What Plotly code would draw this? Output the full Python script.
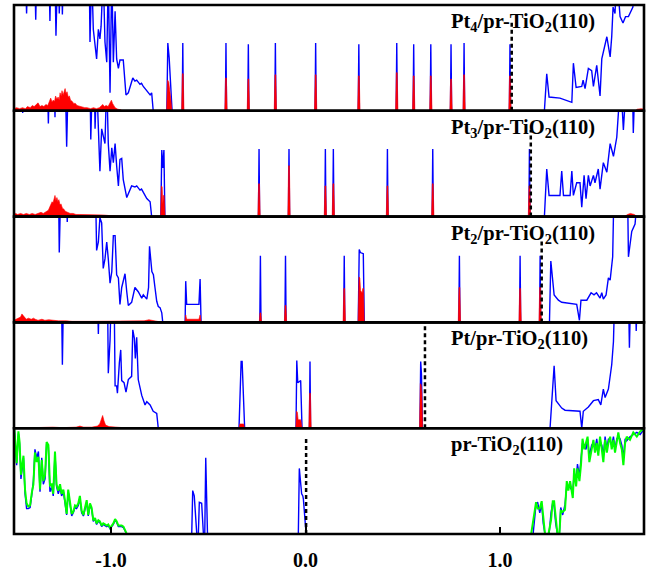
import plotly.graph_objects as go
from plotly.subplots import make_subplots

TOP = 130  # off-scale DOS value (clipped by the panel frame)

panel_labels = ["Pt<sub>4</sub>/pr-TiO<sub>2</sub>(110)",
                "Pt<sub>3</sub>/pr-TiO<sub>2</sub>(110)",
                "Pt<sub>2</sub>/pr-TiO<sub>2</sub>(110)",
                "Pt/pr-TiO<sub>2</sub>(110)",
                "pr-TiO<sub>2</sub>(110)"]
fermi_levels = [1.060, 1.158, 1.214, 0.614, 0.003]
tick_values = [-1.0, 0.0, 1.0]
tick_labels = ["-1.0", "0.0", "1.0"]

# ---------------- Panel 1 : Pt4 ----------------
p1_blue_left = [(-1.499, TOP), (-1.440, TOP), (-1.434, 92), (-1.428, TOP), (-1.392, TOP), (-1.387, 86), (-1.382, TOP),
                (-1.319, TOP), (-1.314, 85), (-1.309, TOP), (-1.288, TOP), (-1.283, 71), (-1.275, TOP), (-1.270, TOP),
                (-1.266, 92), (-1.259, TOP), (-1.254, TOP), (-1.250, 91), (-1.245, TOP), (-1.112, TOP), (-1.108, 65),
                (-1.099, TOP), (-1.091, 77), (-1.074, 49), (-1.065, 77), (-1.057, 68), (-1.051, 80), (-1.040, TOP),
                (-1.031, 65), (-1.022, 46), (-1.014, TOP), (-1.005, 17), (-0.996, TOP), (-0.988, 46), (-0.979, 94),
                (-0.971, 49), (-0.962, 40), (-0.954, 48), (-0.937, 48), (-0.923, 15), (-0.911, 17), (-0.888, 31),
                (-0.877, 28), (-0.868, 29), (-0.851, 25), (-0.843, 26), (-0.834, 23), (-0.816, 19), (-0.799, 15),
                (-0.791, 17), (-0.783, 0)]
p1_red_left = [(-1.499, 2), (-1.485, 3), (-1.470, 2), (-1.455, 3), (-1.440, 2), (-1.430, 4), (-1.415, 3), (-1.405, 5),
               (-1.395, 4), (-1.385, 6), (-1.375, 7.5), (-1.365, 4), (-1.355, 5), (-1.345, 4), (-1.335, 6),
               (-1.325, 5), (-1.318, 9), (-1.310, 12), (-1.303, 8), (-1.298, 10), (-1.290, 9), (-1.285, 14),
               (-1.278, 11), (-1.272, 13), (-1.266, 10), (-1.262, 17), (-1.256, 14), (-1.252, 19), (-1.246, 15),
               (-1.240, 18), (-1.236, 21), (-1.231, 16), (-1.226, 18), (-1.220, 13), (-1.214, 14), (-1.208, 10),
               (-1.200, 9), (-1.192, 7), (-1.183, 7), (-1.175, 5), (-1.160, 4), (-1.150, 4), (-1.135, 3),
               (-1.123, 3), (-1.105, 2), (-1.090, 3), (-1.075, 2), (-1.060, 3), (-1.050, 5), (-1.042, 6),
               (-1.035, 4), (-1.025, 5), (-1.015, 4), (-1.008, 7), (-0.998, 10), (-0.992, 7), (-0.985, 5),
               (-0.979, 3), (-0.965, 1.5), (-0.950, 1), (-0.943, 0)]
p1_blue_groups = [[(-0.713, 0), (-0.708, 64), (-0.701, 50), (-0.694, 30), (-0.686, 0)]]
p1_red_groups = [[(-0.714, 0), (-0.709, 29), (-0.703, 27), (-0.697, 20), (-0.692, 10), (-0.687, 0)]]
p1_spike_E = [-0.631, -0.409, -0.294, -0.155, 0.052, 0.274, 0.469, 0.556, 0.644, 0.748, 0.815, 1.051]
p1_spike_blue = [64, 64, 63, 64, 64, 63, 64, 63, 63, 63, 64, 63]
p1_spike_red = [35, 31, 30, 34, 34, 33, 36, 33, 33, 30, 34, 33]
p1_blue_right = [(1.228, 0), (1.240, 35), (1.252, 13), (1.308, 12), (1.369, 8), (1.377, 45), (1.391, 22), (1.420, 23),
                 (1.427, 29), (1.437, 21), (1.454, 40), (1.471, 38), (1.480, 23), (1.497, 43), (1.514, 14), (1.523, 49),
                 (1.549, 70), (1.566, 51), (1.574, 70), (1.581, 98), (1.591, 92), (1.600, TOP), (1.617, 89),
                 (1.632, 83), (1.645, 89), (1.660, 89), (1.683, 98), (1.693, TOP), (1.745, TOP)]
p1_red_right = [(1.695, 0), (1.705, 1.5), (1.725, 2), (1.745, 1.5)]

# ---------------- Panel 2 : Pt3 ----------------
p2_blue_left = [(-1.499, TOP), (-1.458, TOP), (-1.454, 98), (-1.450, TOP), (-1.327, TOP), (-1.322, 88), (-1.317, TOP),
                (-1.292, TOP), (-1.288, 94), (-1.284, TOP), (-1.235, TOP), (-1.228, 66), (-1.220, TOP), (-1.108, TOP),
                (-1.104, 73), (-1.096, TOP), (-1.086, TOP), (-1.082, 83), (-1.074, TOP), (-1.057, 43), (-1.048, 83),
                (-1.031, 69), (-1.022, TOP), (-1.014, 69), (-1.005, 43), (-0.996, 65), (-0.988, 51), (-0.979, 69),
                (-0.971, 48), (-0.962, 29), (-0.954, 54), (-0.945, 55), (-0.937, 35), (-0.919, 18), (-0.894, 29),
                (-0.877, 28), (-0.868, 29), (-0.851, 25), (-0.843, 26), (-0.834, 23), (-0.816, 17), (-0.799, 14),
                (-0.791, 0)]
p2_red_left = [(-1.499, 2), (-1.490, 3), (-1.480, 2), (-1.465, 3), (-1.450, 2), (-1.435, 3), (-1.420, 2),
               (-1.405, 3), (-1.390, 2), (-1.375, 3), (-1.360, 4), (-1.348, 3), (-1.340, 4), (-1.330, 5),
               (-1.322, 6), (-1.315, 9), (-1.309, 11), (-1.303, 14), (-1.298, 13), (-1.293, 17), (-1.288, 20),
               (-1.283, 15), (-1.278, 18), (-1.273, 14), (-1.268, 16), (-1.262, 11), (-1.257, 12), (-1.250, 8),
               (-1.242, 7), (-1.235, 5), (-1.225, 4), (-1.210, 3), (-1.195, 3), (-1.180, 2), (-1.160, 2),
               (-1.140, 2), (-1.120, 1.5), (-1.090, 1.5), (-1.060, 2), (-1.040, 1.5), (-1.010, 1),
               (-0.980, 1), (-0.950, 0.5), (-0.920, 0)]
p2_blue_groups = [[(-0.744, 0), (-0.739, 63), (-0.734, 46), (-0.728, 63), (-0.723, 0)]]
p2_red_groups = [[(-0.745, 0), (-0.741, 29), (-0.737, 28), (-0.734, 12), (-0.730, 20), (-0.727, 20), (-0.722, 0)]]
p2_spike_E = [-0.239, -0.085, 0.102, 0.143, 0.421, 0.654, 1.151]
p2_spike_blue = [64, 64, 64, 64, 64, 64, 64]
p2_spike_red = [31, 48, 29, 31, 29, 31, 29]
p2_blue_right = [(1.228, 0), (1.240, 45), (1.252, 20), (1.308, 20), (1.317, 43), (1.326, 20), (1.360, 20), (1.369, 43),
                 (1.377, 20), (1.394, 32), (1.411, 32), (1.420, 9), (1.432, 39), (1.442, 17), (1.454, 39), (1.463, 29),
                 (1.480, 39), (1.488, 32), (1.505, 45), (1.514, 26), (1.531, 51), (1.549, 42), (1.566, 69),
                 (1.583, 57), (1.600, 75), (1.608, TOP), (1.620, TOP), (1.634, 82), (1.650, TOP), (1.680, TOP),
                 (1.685, 79), (1.694, TOP), (1.745, TOP)]
p2_red_right = [(1.640, 0), (1.655, 2), (1.670, 3), (1.690, 2), (1.705, 0)]

# ---------------- Panel 3 : Pt2 ----------------
p3_blue_left = [(-1.499, TOP), (-1.270, TOP), (-1.266, 66), (-1.258, TOP), (-1.230, TOP), (-1.225, 95), (-1.218, TOP),
                (-1.080, TOP), (-1.074, 68), (-1.065, 76), (-1.057, 99), (-1.048, 94), (-1.040, 51), (-1.031, 60),
                (-1.022, 76), (-1.014, 60), (-1.005, 37), (-0.996, 48), (-0.988, 82), (-0.979, 82), (-0.971, 45),
                (-0.962, 42), (-0.954, 17), (-0.945, 33), (-0.928, 46), (-0.919, 29), (-0.911, 16), (-0.894, 19),
                (-0.877, 33), (-0.860, 29), (-0.842, 23), (-0.834, 26), (-0.816, 22), (-0.807, 33), (-0.802, 72),
                (-0.790, 48), (-0.782, 45), (-0.774, 33), (-0.765, 20), (-0.757, 15), (-0.748, 14), (-0.739, 9),
                (-0.734, 0)]
p3_red_left = [(-1.499, 2), (-1.485, 3), (-1.472, 4), (-1.465, 5), (-1.458, 8), (-1.452, 6), (-1.445, 5),
               (-1.435, 3), (-1.425, 4), (-1.410, 3), (-1.398, 4), (-1.390, 3), (-1.375, 2), (-1.355, 3),
               (-1.340, 2), (-1.320, 2.5), (-1.300, 2), (-1.270, 1.5), (-1.230, 1.5), (-1.200, 1), (-1.100, 1),
               (-1.000, 1), (-0.900, 1), (-0.830, 1.5), (-0.805, 2.5), (-0.780, 1.5), (-0.750, 1), (-0.734, 0)]
p3_blue_groups = [[(-0.619, 0), (-0.616, 39), (-0.611, 17), (-0.548, 17), (-0.542, 41), (-0.537, 0)],
                  [(0.271, 0), (0.276, 69), (0.282, 66), (0.292, 65), (0.297, 65), (0.302, 0)]]
p3_red_groups = [[(-0.620, 0), (-0.616, 7), (-0.611, 3), (-0.548, 3), (-0.542, 7), (-0.536, 0)],
                 [(0.270, 0), (0.275, 43), (0.279, 42), (0.283, 30), (0.291, 28), (0.294, 32), (0.298, 32),
                  (0.302, 0)]]
p3_spike_E = [-0.232, -0.103, 0.199, 0.791, 1.103, 1.206]
p3_spike_blue = [63, 63, 63, 63, 63, 63]
p3_spike_red = [9, 16, 32, 33, 32, 33]
p3_blue_right = [(1.254, 0), (1.261, 58), (1.278, 26), (1.300, 21), (1.317, 19), (1.394, 17), (1.408, 2), (1.416, 21),
                 (1.446, 21), (1.468, 28), (1.483, 26), (1.496, 28), (1.514, 23), (1.523, 28), (1.531, 22),
                 (1.545, 26), (1.557, 42), (1.566, 40), (1.579, 62), (1.586, TOP), (1.655, TOP), (1.660, 62),
                 (1.677, 86), (1.694, 93), (1.711, TOP), (1.745, TOP)]
p3_red_right = []

# ---------------- Panel 4 : Pt ----------------
p4_blue_left = [(-1.499, TOP), (-1.255, TOP), (-1.250, 60), (-1.244, TOP), (-1.070, TOP), (-1.065, 89), (-1.060, TOP),
                (-1.018, TOP), (-1.014, 52), (-1.005, 83), (-0.998, TOP), (-0.984, TOP), (-0.979, 40), (-0.971, 40),
                (-0.967, 33), (-0.957, 62), (-0.950, 74), (-0.945, 45), (-0.933, 43), (-0.923, 34), (-0.911, 46),
                (-0.894, 49), (-0.888, 93), (-0.880, 85), (-0.875, 66), (-0.868, 86), (-0.860, 46), (-0.842, 31),
                (-0.825, 22), (-0.816, 25), (-0.799, 22), (-0.783, 16), (-0.765, 14), (-0.757, 0)]
p4_red_left = [(-1.499, 0), (-1.420, 0.5), (-1.330, 0.5), (-1.300, 1), (-1.250, 0.5), (-1.180, 1), (-1.160, 2),
               (-1.140, 1), (-1.100, 1), (-1.070, 2), (-1.058, 4), (-1.050, 8), (-1.043, 12), (-1.036, 7),
               (-1.028, 3), (-1.010, 1.5), (-0.980, 1), (-0.940, 0.5), (-0.900, 0)]
p4_blue_groups = [[(-0.342, 0), (-0.331, 63), (-0.326, 63), (-0.313, 0)],
                  [(-0.049, 0), (-0.045, 64), (-0.040, 43), (-0.025, 45), (-0.018, 0)],
                  [(0.588, 0), (0.592, 63), (0.596, 51), (0.601, 0)]]
p4_red_groups = [[(-0.342, 0), (-0.338, 4), (-0.318, 4), (-0.313, 0)],
                 [(-0.050, 0), (-0.046, 16), (-0.042, 15), (-0.038, 8), (-0.025, 8), (-0.018, 0)],
                 [(0.586, 0), (0.590, 42), (0.594, 41), (0.598, 33), (0.602, 0)]]
p4_spike_E = [0.023]
p4_spike_blue = [63]
p4_spike_red = [33]
p4_blue_right = [(1.257, 0), (1.278, 59), (1.288, 26), (1.317, 19), (1.334, 17), (1.411, 16), (1.420, 0), (1.428, 16),
                 (1.454, 20), (1.480, 26), (1.505, 27), (1.518, 22), (1.531, 37), (1.540, 29), (1.557, 37),
                 (1.574, 60), (1.583, 82), (1.590, TOP), (1.660, TOP), (1.665, 76), (1.672, TOP), (1.695, TOP),
                 (1.700, 92), (1.706, TOP), (1.745, TOP)]
p4_red_right = []

# ---------------- Panel 5 : clean pr-TiO2(110) ----------------
p5_green_left = [(-1.499, 105), (-1.485, 67), (-1.476, 97), (-1.470, 87), (-1.463, 56), (-1.454, 73), (-1.450, 74),
                 (-1.442, 42), (-1.434, 29), (-1.425, 26), (-1.416, 27), (-1.408, 38), (-1.399, 47), (-1.391, 77),
                 (-1.382, 68), (-1.373, 73), (-1.365, 42), (-1.356, 70), (-1.348, 50), (-1.339, 56), (-1.331, 87),
                 (-1.322, 84), (-1.314, 46), (-1.305, 47), (-1.297, 38), (-1.288, 78), (-1.280, 47), (-1.271, 41),
                 (-1.262, 47), (-1.254, 38), (-1.245, 42), (-1.237, 32), (-1.228, 19), (-1.220, 42), (-1.211, 29),
                 (-1.202, 19), (-1.194, 21), (-1.185, 27), (-1.177, 26), (-1.168, 29), (-1.160, 36), (-1.151, 22),
                 (-1.142, 18), (-1.134, 26), (-1.125, 32), (-1.117, 18), (-1.108, 29), (-1.100, 25), (-1.091, 13),
                 (-1.082, 15), (-1.074, 10), (-1.065, 13), (-1.057, 12), (-1.048, 8), (-1.040, 10), (-1.031, 9),
                 (-1.022, 8), (-1.014, 9), (-1.005, 6), (-0.996, 8), (-0.988, 10), (-0.979, 14), (-0.971, 12),
                 (-0.962, 8), (-0.954, 8), (-0.945, 8), (-0.936, 7), (-0.928, 4), (-0.919, 0)]
p5_blue_left = [(-1.499, 105), (-1.485, 65), (-1.476, 95), (-1.470, 85), (-1.463, 52), (-1.454, 70), (-1.450, 72),
                (-1.442, 38), (-1.434, 24), (-1.425, 24), (-1.416, 25), (-1.408, 36), (-1.399, 50), (-1.391, 80),
                (-1.382, 72), (-1.373, 78), (-1.365, 40), (-1.356, 72), (-1.348, 47), (-1.339, 52), (-1.331, 85),
                (-1.322, 82), (-1.314, 40), (-1.305, 44), (-1.297, 36), (-1.288, 76), (-1.280, 45), (-1.271, 38),
                (-1.262, 44), (-1.254, 36), (-1.245, 40), (-1.237, 30), (-1.228, 18), (-1.220, 40), (-1.211, 27),
                (-1.202, 17), (-1.194, 20), (-1.185, 25), (-1.177, 24), (-1.168, 27), (-1.160, 34), (-1.151, 20),
                (-1.142, 17), (-1.134, 24), (-1.125, 30), (-1.117, 17), (-1.108, 27), (-1.100, 24), (-1.091, 12),
                (-1.082, 14), (-1.074, 9), (-1.065, 12), (-1.057, 11), (-1.048, 7), (-1.040, 9), (-1.031, 8),
                (-1.022, 7), (-1.014, 8), (-1.005, 5), (-0.996, 7), (-0.988, 9), (-0.979, 13), (-0.971, 11),
                (-0.962, 7), (-0.954, 7), (-0.945, 7), (-0.936, 6), (-0.928, 3), (-0.919, 0)]
p5_blue_groups = [[(-0.585, 0), (-0.580, 41), (-0.572, 36), (-0.559, 0), (-0.551, 0), (-0.546, 30), (-0.534, 29),
                   (-0.525, 0), (-0.518, 0), (-0.513, 72), (-0.504, 0)],
                  [(-0.037, 0), (-0.032, 62), (-0.020, 38), (-0.014, 36), (-0.011, 33), (-0.003, 10), (0.003, 0)]]
p5_green_right = [(1.160, 0), (1.185, 30), (1.193, 24), (1.204, 24), (1.214, 31), (1.222, 13), (1.231, 0), (1.249, 0),
                  (1.262, 13), (1.271, 31), (1.278, 31), (1.286, 16), (1.295, 0), (1.305, 0), (1.312, 22), (1.322, 21),
                  (1.334, 23), (1.343, 50), (1.351, 41), (1.360, 50), (1.374, 34), (1.381, 62), (1.391, 45),
                  (1.398, 62), (1.408, 50), (1.416, 65), (1.424, 90), (1.433, 80), (1.442, 86), (1.450, 92),
                  (1.459, 68), (1.471, 80), (1.480, 89), (1.488, 77), (1.497, 86), (1.505, 74), (1.514, 92),
                  (1.523, 80), (1.531, 68), (1.540, 89), (1.549, 77), (1.557, 86), (1.566, 92), (1.574, 80),
                  (1.583, 89), (1.591, 77), (1.600, 86), (1.608, 96), (1.617, 86), (1.626, 80), (1.634, 65),
                  (1.643, 86), (1.651, 92), (1.668, 89), (1.685, 96), (1.703, 92), (1.720, 97), (1.737, 99),
                  (1.745, 100)]
p5_blue_right = [(1.170, 0), (1.185, 28), (1.193, 30), (1.204, 20), (1.214, 28), (1.222, 10), (1.231, 0), (1.252, 0),
                 (1.262, 20), (1.271, 30), (1.278, 26), (1.286, 10), (1.295, 0), (1.305, 0), (1.312, 25), (1.322, 18),
                 (1.334, 28), (1.343, 46), (1.351, 45), (1.360, 44), (1.374, 40), (1.381, 58), (1.391, 52),
                 (1.398, 66), (1.408, 55), (1.416, 70), (1.424, 86), (1.433, 84), (1.442, 80), (1.450, 90),
                 (1.459, 74), (1.471, 84), (1.480, 86), (1.488, 80), (1.497, 90), (1.505, 78), (1.514, 88),
                 (1.523, 84), (1.531, 74), (1.540, 92), (1.549, 80), (1.557, 90), (1.566, 88), (1.574, 84),
                 (1.583, 92), (1.591, 80), (1.600, 90), (1.608, 92), (1.617, 90), (1.626, 84), (1.634, 72),
                 (1.643, 90), (1.651, 88), (1.668, 92), (1.685, 94), (1.703, 96), (1.720, 94), (1.737, 98),
                 (1.745, 100)]


def blue_spike(e, h):
    return [(e - 0.003, 0), (e, h), (e + 0.003, 0)]


def red_spike(e, h):
    return [(e - 0.006, 0), (e - 0.0022, h), (e + 0.0022, h), (e + 0.006, 0)]


def build(left, groups, spikes, right):
    segs = [left] + list(groups) + spikes + [right]
    segs = [s for s in segs if s]
    segs.sort(key=lambda s: s[0][0])
    xs, ys = [], []
    for s in segs:
        xs += [p[0] for p in s] + [None]
        ys += [p[1] for p in s] + [None]
    return xs, ys


panels = [
    dict(bl=p1_blue_left, bg=p1_blue_groups, br=p1_blue_right, rl=p1_red_left, rg=p1_red_groups, rr=p1_red_right,
         sE=p1_spike_E, sB=p1_spike_blue, sR=p1_spike_red),
    dict(bl=p2_blue_left, bg=p2_blue_groups, br=p2_blue_right, rl=p2_red_left, rg=p2_red_groups, rr=p2_red_right,
         sE=p2_spike_E, sB=p2_spike_blue, sR=p2_spike_red),
    dict(bl=p3_blue_left, bg=p3_blue_groups, br=p3_blue_right, rl=p3_red_left, rg=p3_red_groups, rr=p3_red_right,
         sE=p3_spike_E, sB=p3_spike_blue, sR=p3_spike_red),
    dict(bl=p4_blue_left, bg=p4_blue_groups, br=p4_blue_right, rl=p4_red_left, rg=p4_red_groups, rr=p4_red_right,
         sE=p4_spike_E, sB=p4_spike_blue, sR=p4_spike_red),
]

fig = make_subplots(rows=5, cols=1, shared_xaxes=True, vertical_spacing=0)

for i, p in enumerate(panels):
    row = i + 1
    bx, by = build(p["bl"], p["bg"], [blue_spike(e, h) for e, h in zip(p["sE"], p["sB"])], p["br"])
    fig.add_trace(go.Scatter(x=bx, y=by, mode="lines", line=dict(color="#0000ff", width=1.4),
                             hoverinfo="skip", showlegend=False), row=row, col=1)
    rx, ry = build(p["rl"], p["rg"], [red_spike(e, h) for e, h in zip(p["sE"], p["sR"])], p["rr"])
    fig.add_trace(go.Scatter(x=rx, y=ry, mode="lines", line=dict(color="#ff0000", width=0.6),
                             fill="tozeroy", fillcolor="#ff0000", hoverinfo="skip", showlegend=False),
                  row=row, col=1)

# bottom panel: blue total + green
bx, by = build(p5_blue_left, p5_blue_groups, [], p5_blue_right)
fig.add_trace(go.Scatter(x=bx, y=by, mode="lines", line=dict(color="#0000ff", width=1.4),
                         hoverinfo="skip", showlegend=False), row=5, col=1)
gx, gy = build(p5_green_left, [], [], p5_green_right)
fig.add_trace(go.Scatter(x=gx, y=gy, mode="lines", line=dict(color="#00ff00", width=2),
                         hoverinfo="skip", showlegend=False), row=5, col=1)

dash_tops = [0.84, 0.82, 0.77, 1.0, 0.92]
yrefs = ["y", "y2", "y3", "y4", "y5"]
for i in range(5):
    fig.add_shape(type="line", xref="x", yref=f"{yrefs[i]} domain", x0=fermi_levels[i], x1=fermi_levels[i],
                  y0=0, y1=dash_tops[i], line=dict(color="black", width=2.5, dash="4px,3px"))
    fig.add_shape(type="rect", xref="x domain", yref=f"{yrefs[i]} domain", x0=0, x1=1, y0=0, y1=1,
                  line=dict(color="black", width=2.6), fillcolor="rgba(0,0,0,0)")
    fig.add_annotation(text="<b>" + panel_labels[i] + "</b>", x=0.738, xref="x", xanchor="left",
                       y=1, yref=f"{yrefs[i]} domain", yanchor="top", yshift=-3, showarrow=False,
                       font=dict(family="Liberation Serif", size=20.5, color="black"))

XR = [-1.4987, 1.740]
for r in range(1, 6):
    fig.update_xaxes(range=XR, showline=False, showgrid=False, zeroline=False, row=r, col=1)
    fig.update_yaxes(range=[0, 100], showline=False, showgrid=False, zeroline=False,
                     showticklabels=False, ticks="", row=r, col=1)
    if r < 5:
        fig.update_xaxes(showticklabels=False, ticks="", row=r, col=1)

fig.update_xaxes(tickvals=tick_values, ticktext=["<b>" + t + "</b>" for t in tick_labels],
                 ticks="inside", ticklen=7, tickwidth=1.5, tickcolor="black", ticklabelstandoff=12,
                 tickfont=dict(family="Liberation Serif", size=20, color="black"), row=5, col=1)

fig.update_layout(width=652, height=576, autosize=False,
                  margin=dict(l=14, r=8, t=5, b=28),
                  paper_bgcolor="white", plot_bgcolor="white")

fig.write_html("out.html", config={"displayModeBar": False},
               post_script="document.body.style.margin='0';document.body.style.overflow='hidden';")
